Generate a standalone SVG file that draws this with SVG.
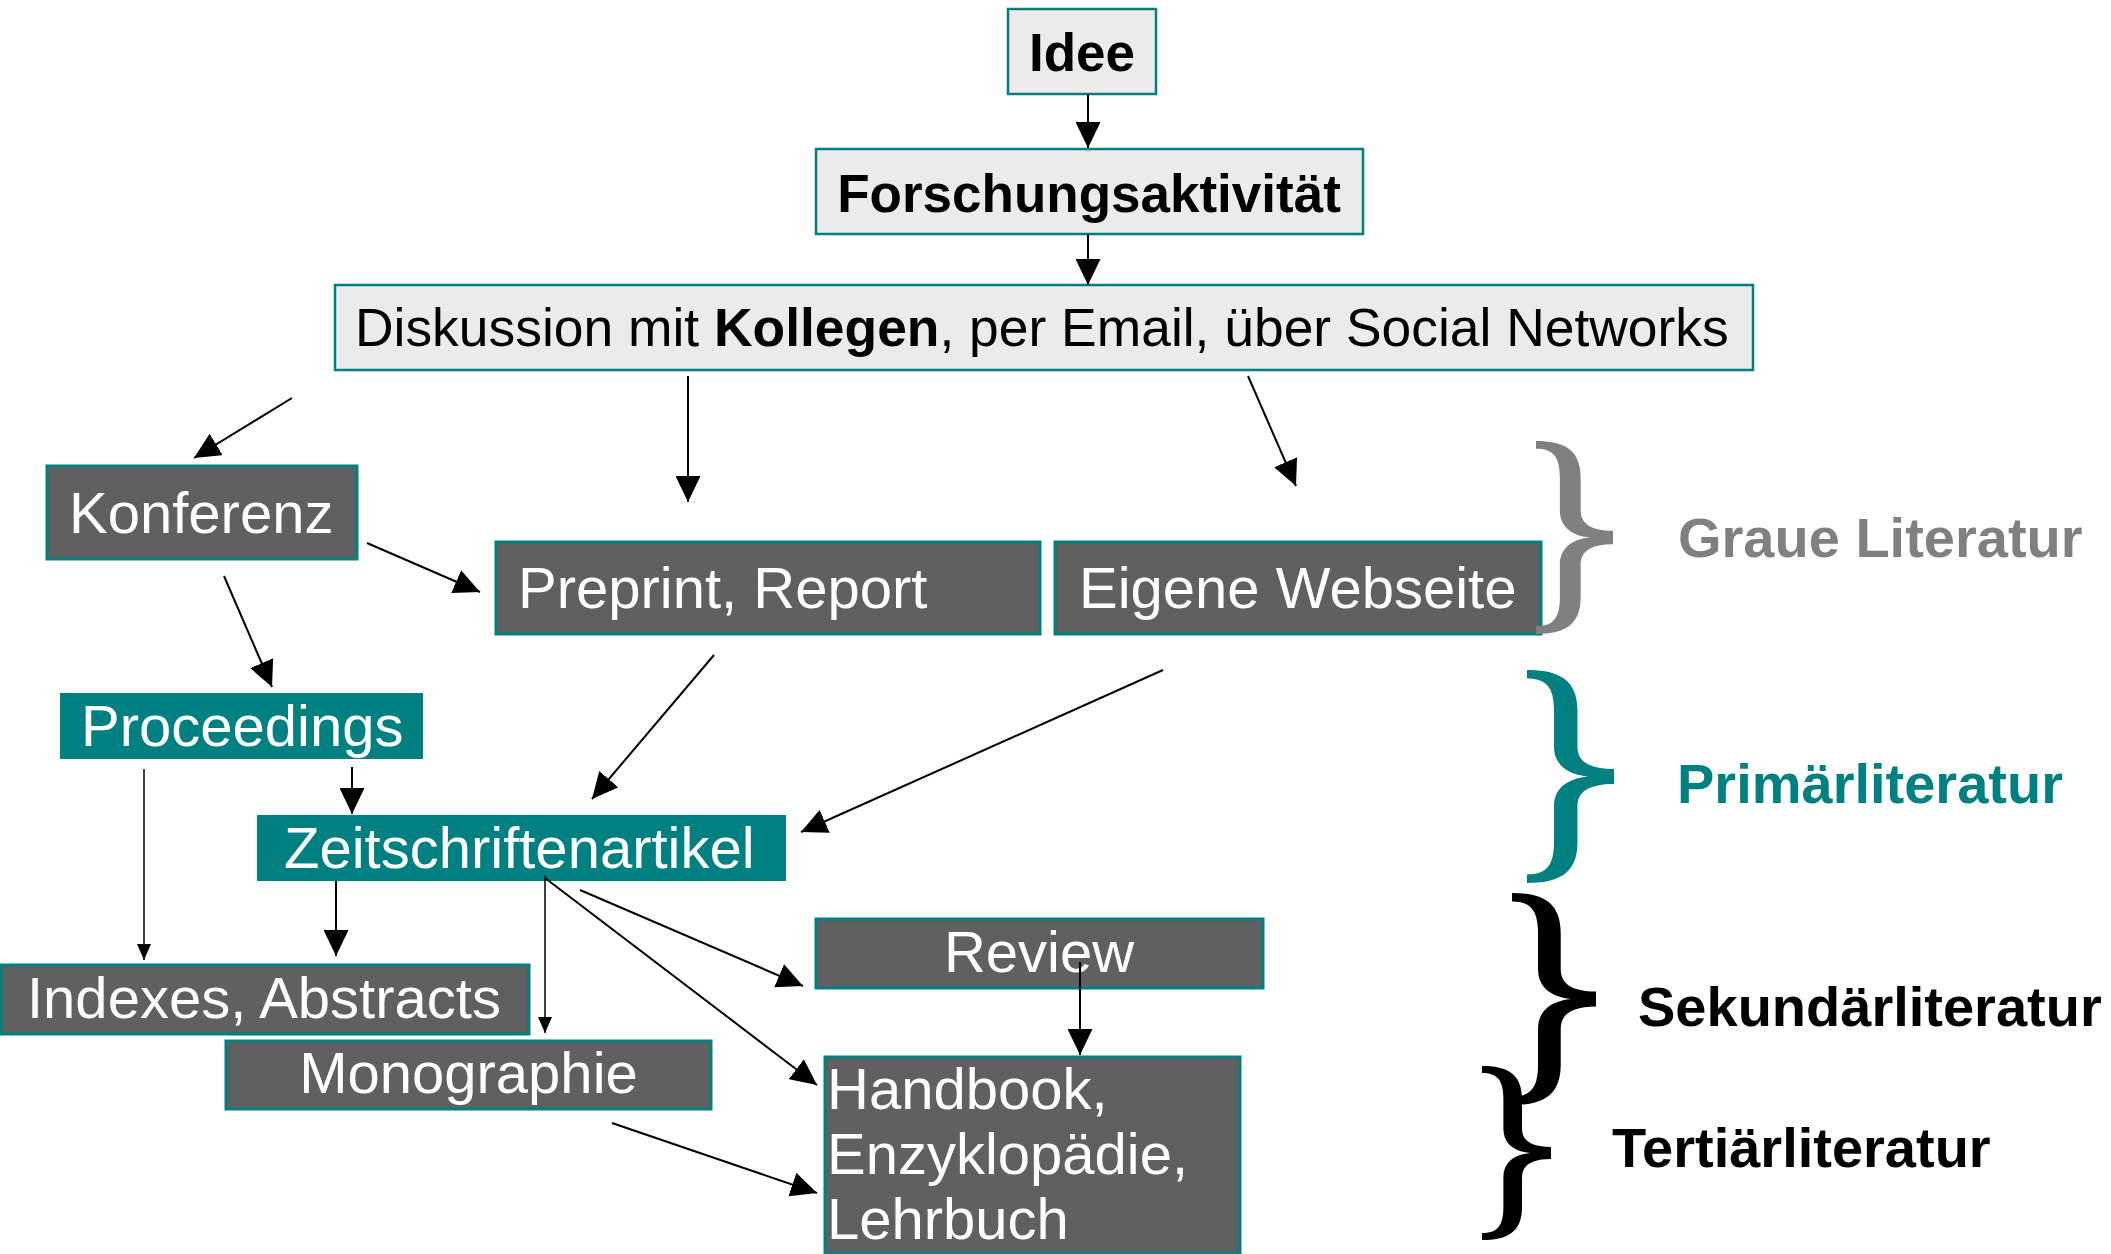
<svg xmlns="http://www.w3.org/2000/svg" width="2111" height="1254" viewBox="0 0 2111 1254">
<defs>
<style>
.bl{fill:#ebebeb;stroke:#008080;stroke-width:2.5}
.bd{fill:#606060;stroke:#008080;stroke-width:3}
.bt{fill:#008080}
.tb{font-family:"Liberation Sans",Arial,sans-serif;font-weight:bold;font-size:53px;fill:#000}
.tn{font-family:"Liberation Sans",Arial,sans-serif;font-size:53.4px;fill:#000}
.tw{font-family:"Liberation Sans",Arial,sans-serif;font-size:58px;fill:#fff}
.lb{font-family:"Liberation Sans",Arial,sans-serif;font-weight:bold;font-size:56px}
.c{stroke:#000;stroke-width:2;fill:none;marker-end:url(#ah)}
.cs{stroke:#000;stroke-width:1.5;fill:none;marker-end:url(#as)}
</style>
<marker id="ah" markerUnits="userSpaceOnUse" viewBox="0 0 26 25" markerWidth="26" markerHeight="25" refX="26" refY="12.5" orient="auto"><path d="M0,0 L26,12.5 L0,25 Z" fill="#000"/></marker>
<marker id="as" markerUnits="userSpaceOnUse" viewBox="0 0 16 14" markerWidth="16" markerHeight="14" refX="16" refY="7" orient="auto"><path d="M0,0 L16,7 L0,14 Z" fill="#000"/></marker>
<path id="brace" d="M0,0 C35,0 58,8 58,38 L58,72 C58,86 72,93 100,93 L100,107 C72,107 58,114 58,128 L58,162 C58,192 35,200 0,200 L0,192 C22,192 31,184 31,162 L31,128 C31,112 45,102 70,100 C45,98 31,88 31,72 L31,38 C31,16 22,8 0,8 Z"/>
</defs>
<rect width="2111" height="1254" fill="#fff"/>

<g id="idee"><rect class="bl" x="1008" y="9" width="148" height="85"/><text class="tb" x="1082" y="71" text-anchor="middle">Idee</text></g>
<g id="forschung"><rect class="bl" x="816" y="149" width="547" height="85"/><text class="tb" x="1089" y="212" text-anchor="middle">Forschungsaktivität</text></g>
<g id="diskussion"><rect class="bl" x="335" y="285" width="1418" height="85"/><text class="tn" x="355" y="346">Diskussion mit <tspan font-weight="bold">Kollegen</tspan>, per Email, über Social Networks</text></g>
<g id="konferenz"><rect class="bd" x="47" y="466" width="310" height="93"/><text class="tw" x="69" y="533">Konferenz</text></g>
<g id="preprint"><rect class="bd" x="496" y="542" width="544" height="92"/><text class="tw" x="518" y="608">Preprint, Report</text></g>
<g id="webseite"><rect class="bd" x="1055" y="542" width="486" height="92"/><text class="tw" x="1079" y="608">Eigene Webseite</text></g>
<g id="proceedings"><rect class="bt" x="60" y="693" width="363" height="66"/><text class="tw" x="81" y="746">Proceedings</text></g>
<g id="zeitschrift"><rect class="bt" x="257" y="815" width="529" height="66"/><text class="tw" x="284" y="868">Zeitschriftenartikel</text></g>
<g id="indexes"><rect class="bd" x="1" y="965" width="528" height="69"/><text class="tw" x="27" y="1018">Indexes, Abstracts</text></g>
<g id="monographie"><rect class="bd" x="226" y="1041" width="485" height="68"/><text class="tw" x="468.5" y="1093" text-anchor="middle">Monographie</text></g>
<g id="review"><rect class="bd" x="816" y="919" width="447" height="69"/><text class="tw" x="1039" y="972" text-anchor="middle">Review</text></g>
<g id="handbook"><rect class="bd" x="825" y="1057" width="415" height="196"/><text class="tw" x="827" y="1109">Handbook,</text><text class="tw" x="827" y="1174">Enzyklopädie,</text><text class="tw" x="827" y="1239">Lehrbuch</text></g>

<g id="connectors">
<line class="c" x1="1088" y1="94" x2="1088" y2="148"/>
<line class="c" x1="1088" y1="234" x2="1088" y2="285"/>
<line class="c" x1="292" y1="398" x2="194" y2="458"/>
<line class="c" x1="688" y1="376" x2="688" y2="502"/>
<line class="c" x1="1248" y1="376" x2="1296" y2="486"/>
<line class="c" x1="367" y1="543" x2="480" y2="592"/>
<line class="c" x1="224" y1="576" x2="272" y2="687"/>
<line class="c" x1="714" y1="655" x2="592" y2="799"/>
<line class="c" x1="1163" y1="670" x2="801" y2="832"/>
<line class="c" x1="352" y1="767" x2="352" y2="814"/>
<line class="cs" x1="144" y1="769" x2="144" y2="960"/>
<line class="c" x1="336" y1="881" x2="336" y2="956"/>
<line class="cs" x1="545" y1="876" x2="545" y2="1033"/>
<line class="c" x1="545" y1="878" x2="817" y2="1085"/>
<line class="c" x1="580" y1="890" x2="803" y2="986"/>
<line class="c" x1="1080" y1="962" x2="1080" y2="1055"/>
<line class="c" x1="612" y1="1123" x2="817" y2="1193"/>
</g>

<g id="brace-grau"><use href="#brace" fill="#808080" transform="translate(1536,441) scale(0.77,0.965)"/><text class="lb" x="1678" y="557" fill="#808080">Graue Literatur</text></g>
<g id="brace-primaer"><use href="#brace" fill="#008080" transform="translate(1527,670) scale(0.87,1.065)"/><text class="lb" x="1677" y="803" fill="#008080">Primärliteratur</text></g>
<g id="brace-sekundaer"><use href="#brace" fill="#000" transform="translate(1512,893) scale(0.84,1.06)"/><text class="lb" x="1638" y="1026" fill="#000">Sekundärliteratur</text></g>
<g id="brace-tertiaer"><use href="#brace" fill="#000" transform="translate(1482,1066) scale(0.69,0.87)"/><text class="lb" x="1612" y="1167" fill="#000">Tertiärliteratur</text></g>
</svg>
